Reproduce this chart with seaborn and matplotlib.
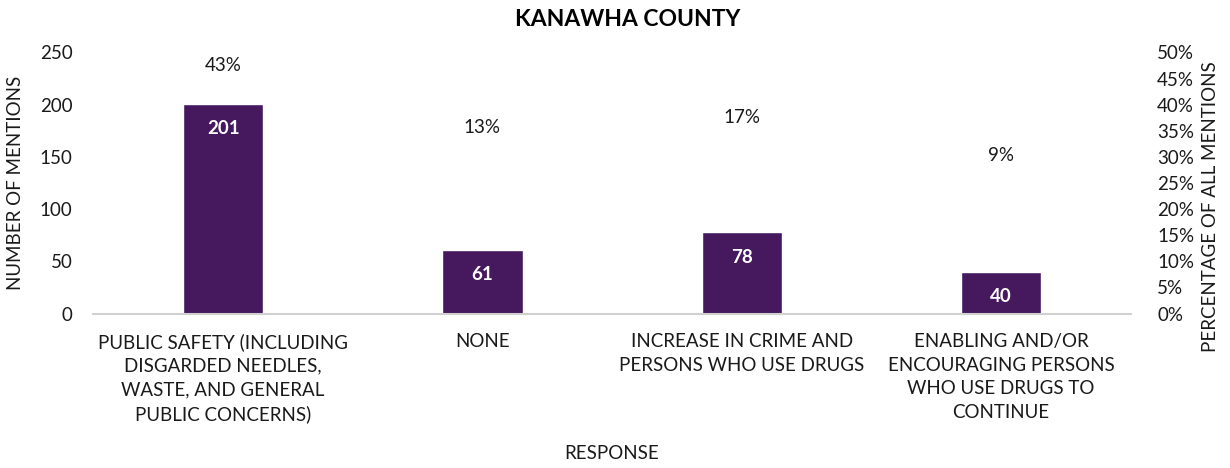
import matplotlib
matplotlib.use("Agg")
import matplotlib.pyplot as plt
import seaborn as sns
import pandas as pd
from matplotlib.ticker import PercentFormatter

# Survey responses and counts
categories = [
    "PUBLIC SAFETY (INCLUDING\nDISGARDED NEEDLES,\nWASTE, AND GENERAL\nPUBLIC CONCERNS)",
    "NONE",
    "INCREASE IN CRIME AND\nPERSONS WHO USE DRUGS",
    "ENABLING AND/OR\nENCOURAGING PERSONS\nWHO USE DRUGS TO\nCONTINUE",
]
mentions = [201, 61, 78, 40]
pct_labels = ["43%", "13%", "17%", "9%"]
# height (in mention units) where each percentage label sits
pct_label_height = [237, 178, 188, 151]

sns.set_theme(style="white")
plt.rcParams["font.family"] = ["Lato", "DejaVu Sans"]

BAR = "#46195F"
TXT = "#1a1a1a"
FS = 13.5

df = pd.DataFrame({"response": categories, "mentions": mentions})

fig = plt.figure(figsize=(12.3, 4.68), dpi=100)
ax = fig.add_axes([0.0760, 0.330, 0.8432, 0.558])

sns.barplot(data=df, x="response", y="mentions", color=BAR, width=0.31,
            saturation=1, ax=ax)

ax.set_ylim(0, 250)
ax.set_yticks(range(0, 251, 50))
ax.set_xlim(-0.5, len(categories) - 0.5)

for s in ["top", "right", "left"]:
    ax.spines[s].set_visible(False)
ax.spines["bottom"].set_color("#d0d0d0")
ax.spines["bottom"].set_linewidth(1.5)
ax.tick_params(axis="both", length=0, labelsize=FS, colors=TXT)
ax.tick_params(axis="y", pad=15)
ax.tick_params(axis="x", pad=14)
ax.set_xticks(range(len(categories)))
ax.set_xticklabels(categories, fontsize=FS, linespacing=1.47, color=TXT)

ax.set_xlabel("RESPONSE", fontsize=FS, color=TXT, labelpad=16)
ax.set_ylabel("NUMBER OF MENTIONS", fontsize=FS, color=TXT, labelpad=11)

# value labels inside bars
for i, v in enumerate(mentions):
    ax.annotate(str(v), (i, v), xytext=(0, -18), textcoords="offset points",
                ha="center", va="center", color="white", fontsize=FS,
                fontweight="bold")

# percentage labels above bars
for i, (lab, h) in enumerate(zip(pct_labels, pct_label_height)):
    ax.text(i, h, lab, ha="center", va="center", fontsize=FS, color=TXT)

# secondary percentage axis
ax2 = ax.twinx()
ax2.set_ylim(0, 0.5)
ax2.set_yticks([i * 0.05 for i in range(11)])
ax2.yaxis.set_major_formatter(PercentFormatter(1.0, decimals=0))
for s in ["top", "right", "left", "bottom"]:
    ax2.spines[s].set_visible(False)
ax2.tick_params(axis="y", length=0, labelsize=FS, colors=TXT, pad=19)
ax2.set_ylabel("PERCENTAGE OF ALL MENTIONS", fontsize=FS, color=TXT,
               labelpad=6)
ax2.yaxis.label.set_y(0.41)
ax2.grid(False)

fig.text(628 / 1230, 1 - 20 / 468, "KANAWHA COUNTY", ha="center", va="center",
         fontsize=16.5, fontweight="bold", color="black")

fig.savefig("out.png", dpi=100, facecolor="white")
